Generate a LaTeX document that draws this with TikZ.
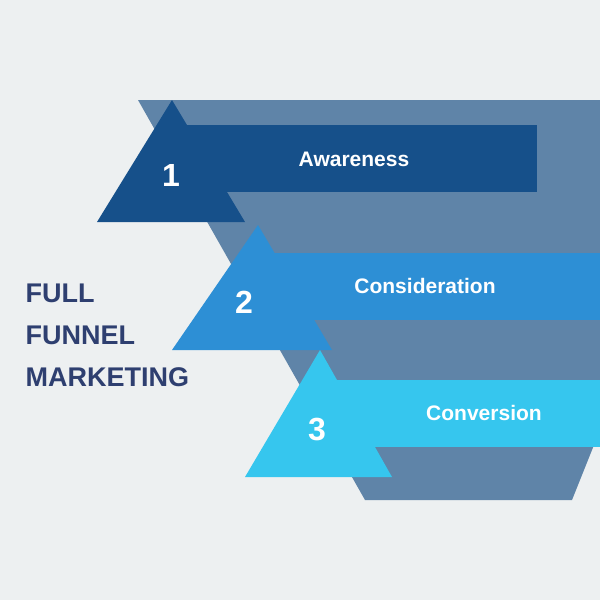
\documentclass[tikz,border=0pt]{standalone}
\usepackage{fontspec}
\setmainfont{Liberation Sans}
\definecolor{bgc}{HTML}{EDF0F1}
\definecolor{funnelc}{HTML}{5F84A8}
\definecolor{stepa}{HTML}{16508A}
\definecolor{stepb}{HTML}{2D8FD5}
\definecolor{stepc}{HTML}{36C6EE}
\definecolor{titlec}{HTML}{2E3F70}
\tikzset{barlabel/.style={text=white,font=\bfseries\fontsize{21}{24}\selectfont,anchor=center},
  numlabel/.style={text=white,font=\bfseries\fontsize{32}{36}\selectfont,anchor=center},
  titlelabel/.style={text=titlec,font=\bfseries\fontsize{27}{42}\selectfont,anchor=north west,align=left}}
\begin{document}
\begin{tikzpicture}[x=1pt,y=-1pt]
\fill[bgc] (0,0) rectangle (600,600);
\useasboundingbox (0,0) rectangle (600,600);

% funnel
\fill[funnelc] (138,100) -- (600,100) -- (600,430) -- (572,500) -- (365,500) -- cycle;

% step 1
\fill[stepa] (178,125) rectangle (537,192);
\fill[stepa] (172,100) -- (245,222) -- (97,222) -- cycle;
% step 2
\fill[stepb] (255,253) rectangle (600,320);
\fill[stepb] (258,225) -- (332,350) -- (172,350) -- cycle;
% step 3
\fill[stepc] (330,380) rectangle (600,447);
\fill[stepc] (320,350) -- (392,477) -- (245,477) -- cycle;

\node[barlabel] (awareness) at (354,159) {Awareness};
\node[barlabel] (consideration) at (425,286) {Consideration};
\node[barlabel] (conversion) at (484,413) {Conversion};
\node[numlabel] (one) at (171,175) {1};
\node[numlabel] (two) at (244,302) {2};
\node[numlabel] (three) at (317,430) {3};
\node[titlelabel] (title) at (22,280) {FULL\\FUNNEL\\MARKETING};
\end{tikzpicture}
\end{document}
